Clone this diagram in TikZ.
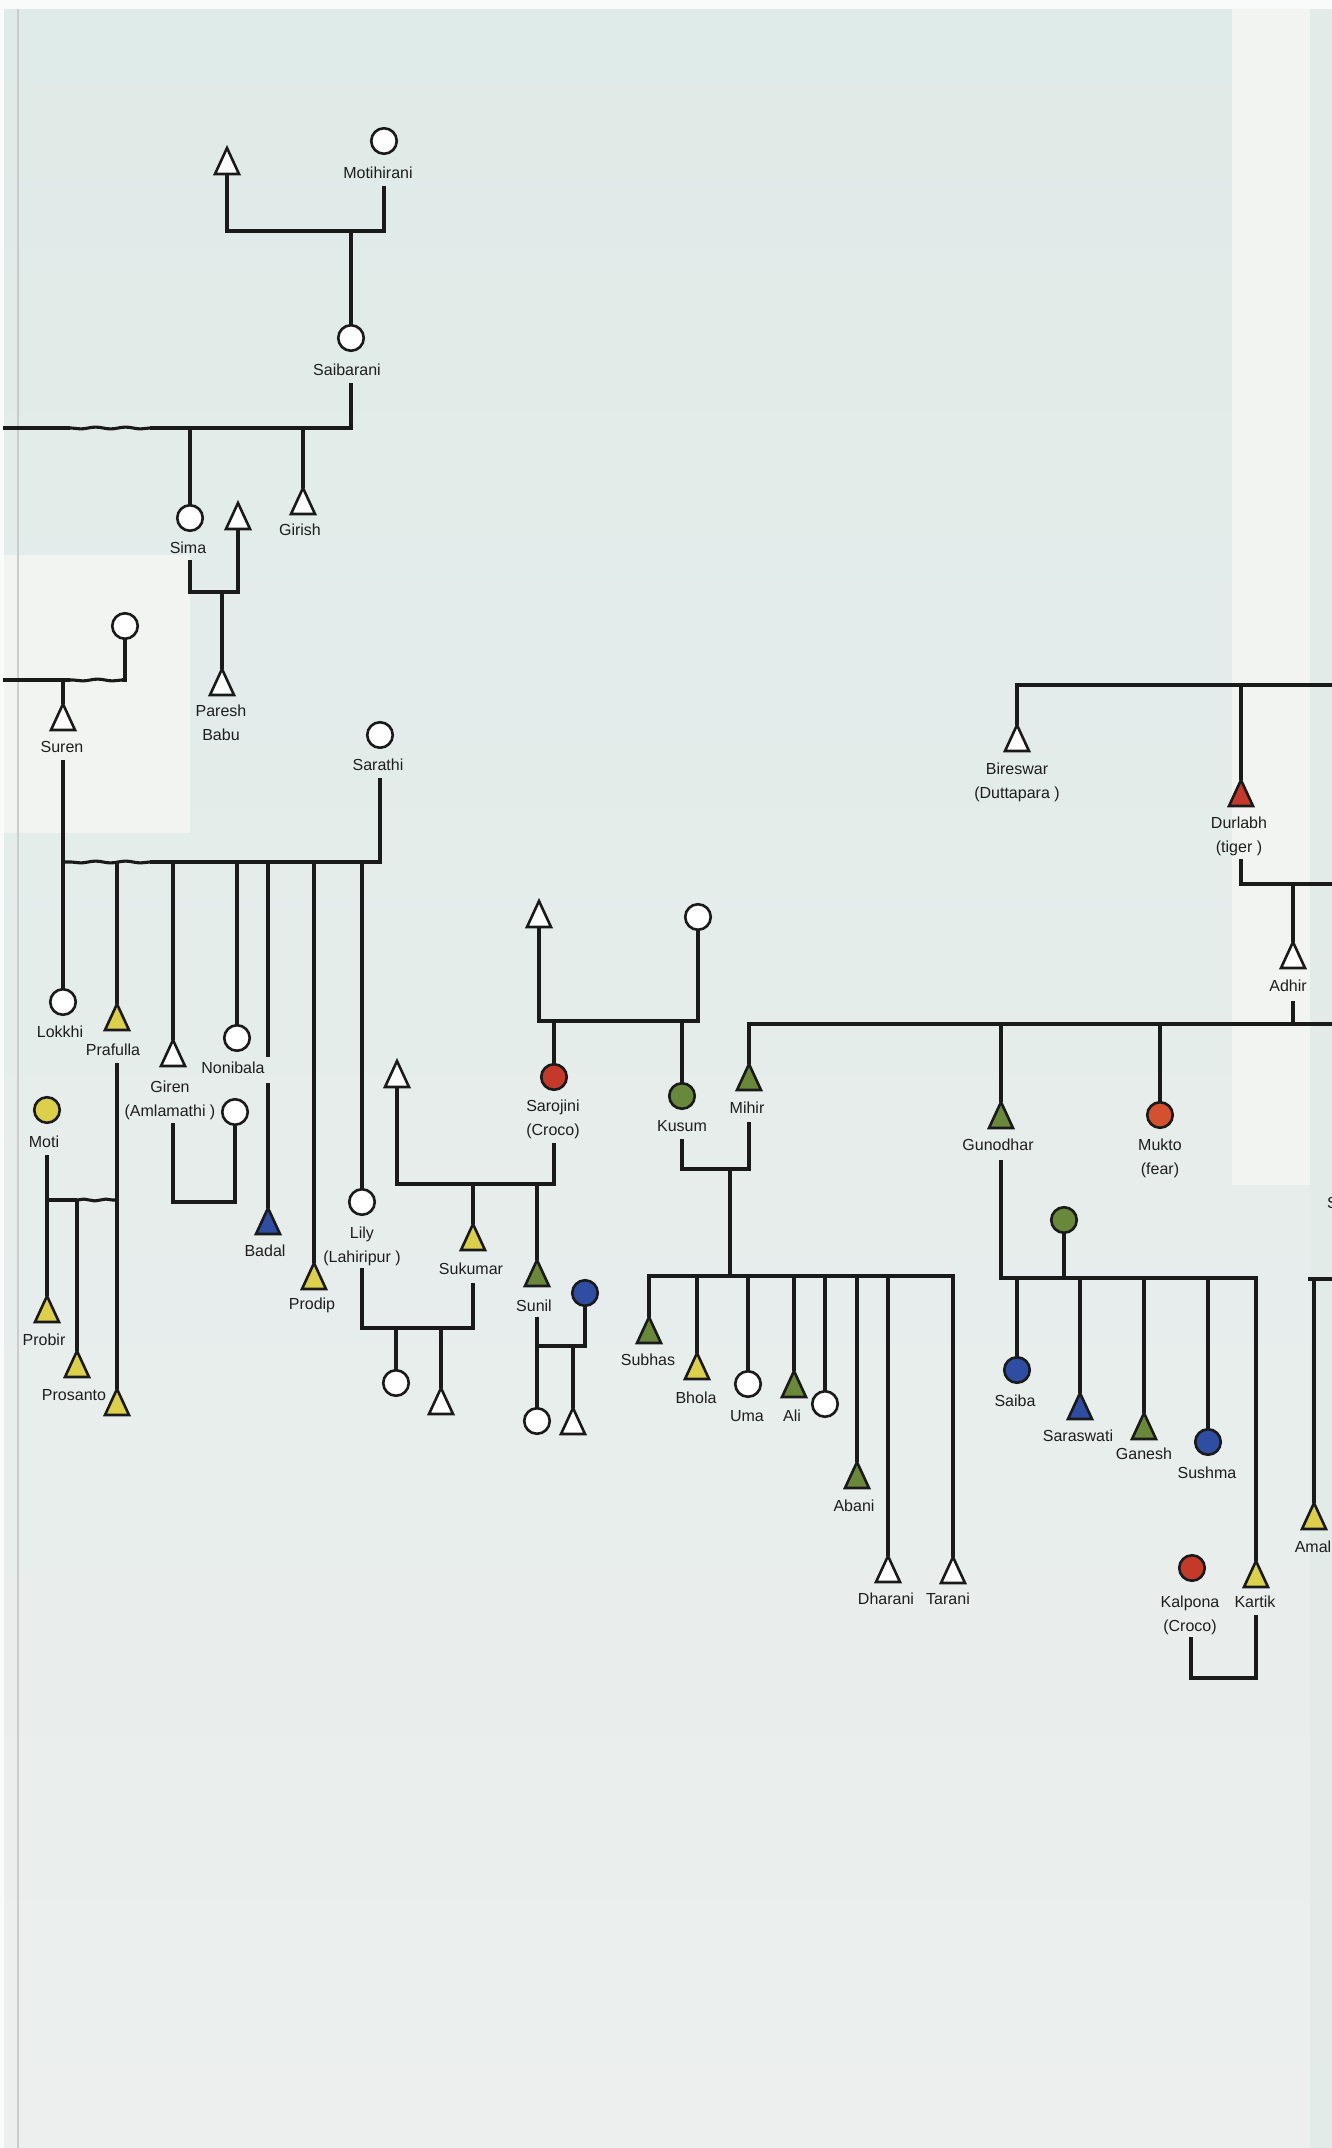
\documentclass[tikz,border=0pt]{standalone}
\usepackage{fontspec}
\setmainfont{Liberation Sans}
\usetikzlibrary{decorations.pathmorphing}
\definecolor{ink}{HTML}{1A1A1A}
\definecolor{txt}{HTML}{1E1E1E}
\definecolor{yel}{HTML}{DCD04A}
\definecolor{grn}{HTML}{6A883A}
\definecolor{blu}{HTML}{2F4EA3}
\definecolor{redF}{HTML}{C5392B}
\definecolor{org}{HTML}{D4512F}
\definecolor{bgTop}{HTML}{DFEBE8}
\definecolor{bgMid}{HTML}{E3EFEC}
\definecolor{bgBot}{HTML}{ECEFEE}
\definecolor{paleW}{HTML}{F1F4F0}
\definecolor{edgeG}{HTML}{E2EBE8}
\tikzset{
  conn/.style={line width=3.1pt, draw=ink},
  wave/.style={decorate, decoration={snake, amplitude=0.9pt, segment length=30pt}},
  fem/.style={circle, draw=ink, line width=2.6pt, minimum size=25.5pt, inner sep=0pt, outer sep=0pt},
  tribox/.style={rectangle, minimum width=24pt, minimum height=26pt, inner sep=0pt, outer sep=0pt},
  trishape/.style={draw=ink, line width=2.6pt, line join=miter},
  lab/.style={font=\fontsize{16}{24}\selectfont, text=txt, inner sep=1pt, align=center}
}
\newcommand\Male[4]{\node[tribox] (#1) at (#2,#3) {};
  \filldraw[trishape, fill=#4] (#1.north) -- (#1.south east) -- (#1.south west) -- cycle;}
\newcommand\Fem[4]{\node[fem, fill=#4] (#1) at (#2,#3) {};}
\begin{document}
\begin{tikzpicture}[x=1pt,y=-1pt]
\useasboundingbox (0,0) rectangle (1332,2148);
\clip (0,0) rectangle (1332,2148);
% background
\shade[top color=bgTop, middle color=bgMid, bottom color=bgBot] (0,0) rectangle (1332,2148);
\fill[paleW] (0,555) rectangle (190,833);
\fill[paleW] (1232,0) rectangle (1310,1185);
\fill[edgeG] (1310,0) rectangle (1332,2148);
\fill[white!80!bgTop] (0,0) rectangle (1332,9);
\fill[white!80!bgTop] (0,0) rectangle (4,2148);
\draw[line width=1.5pt, color=black!20] (18,9) -- (18,2148);

% ---------- males ----------
\Male{T1}{227}{161}{white}
\Male{Girish}{303}{501}{white}
\Male{T2}{238}{516}{white}
\Male{Paresh}{222}{682}{white}
\Male{Suren}{63}{717}{white}
\Male{Prafulla}{117}{1017}{yel}
\Male{Giren}{173}{1053}{white}
\Male{Badal}{268}{1221}{blu}
\Male{Prodip}{314}{1276}{yel}
\Male{Probir}{47}{1309}{yel}
\Male{Prosanto}{77}{1364}{yel}
\Male{Pr3}{117}{1402}{yel}
\Male{T3}{397}{1074}{white}
\Male{Suk}{473}{1237}{yel}
\Male{Sunil}{537}{1273}{grn}
\Male{SC2}{573}{1421}{white}
\Male{LC2}{441}{1401}{white}
\Male{T4}{539}{914}{white}
\Male{Mihir}{749}{1077}{grn}
\Male{Subhas}{649}{1330}{grn}
\Male{Bhola}{697}{1366}{yel}
\Male{Ali}{794}{1384}{grn}
\Male{Abani}{857}{1475}{grn}
\Male{Dharani}{888}{1569}{white}
\Male{Tarani}{953}{1570}{white}
\Male{Bire}{1017}{738}{white}
\Male{Durl}{1241}{793}{redF}
\Male{Adhir}{1293}{955}{white}
\Male{Guno}{1001}{1115}{grn}
\Male{Saras}{1080}{1406}{blu}
\Male{Ganesh}{1144}{1426}{grn}
\Male{Kartik}{1256}{1574}{yel}
\Male{Amal}{1314}{1516}{yel}

% ---------- females ----------
\Fem{Moth}{384}{141}{white}
\Fem{Saib}{351}{338}{white}
\Fem{Sima}{190}{518}{white}
\Fem{F2}{125}{626}{white}
\Fem{Sarathi}{380}{735}{white}
\Fem{Lokkhi}{63}{1002}{white}
\Fem{Aml}{235}{1112}{white}
\Fem{Noni}{237}{1038}{white}
\Fem{Lily}{362}{1202}{white}
\Fem{Moti}{47}{1110}{yel}
\Fem{LC1}{396}{1383}{white}
\Fem{SuW}{585}{1293}{blu}
\Fem{SC1}{537}{1421}{white}
\Fem{F4}{698}{917}{white}
\Fem{Saro}{554}{1077}{redF}
\Fem{Kusum}{682}{1096}{grn}
\Fem{Uma}{748}{1384}{white}
\Fem{KC}{825}{1404}{white}
\Fem{Mukto}{1160}{1115}{org}
\Fem{F5}{1064}{1220}{grn}
\Fem{Saiba}{1017}{1370}{blu}
\Fem{Sushma}{1208}{1442}{blu}
\Fem{Kalp}{1192}{1568}{redF}

% ---------- labels ----------
\node[lab] (lMoth) at (378,173) {Motihirani};
\node[lab] (lSaib) at (347,370) {Saibarani};
\node[lab] (lSima) at (188,548) {Sima};
\node[lab] (lGirish) at (300,530) {Girish};
\node[lab] (lParesh) at (221,723) {Paresh\\Babu};
\node[lab] (lSuren) at (62,747) {Suren};
\node[lab] (lSarathi) at (378,765) {Sarathi};
\node[lab] (lLokkhi) at (60,1032) {Lokkhi};
\node[lab] (lPraf) at (113,1050) {Prafulla};
\node[lab] (lGiren) at (170,1100) {Giren\\(Amlamathi )};
\node[lab] (lNoni) at (233,1068) {Nonibala};
\node[lab] (lBadal) at (265,1251) {Badal};
\node[lab] (lProdip) at (312,1305) {Prodip};
\node[lab] (lLily) at (362,1246) {Lily\\(Lahiripur )};
\node[lab] (lMoti) at (44,1142) {Moti};
\node[lab] (lProbir) at (44,1340) {Probir};
\node[lab] (lPros) at (74,1395) {Prosanto};
\node[lab] (lSaro) at (553,1119) {Sarojini\\(Croco)};
\node[lab] (lKusum) at (682,1126) {Kusum};
\node[lab] (lMihir) at (747,1108) {Mihir};
\node[lab] (lSuk) at (471,1269) {Sukumar};
\node[lab] (lSunil) at (534,1306) {Sunil};
\node[lab] (lSubhas) at (648,1360) {Subhas};
\node[lab] (lBhola) at (696,1398) {Bhola};
\node[lab] (lUma) at (747,1416) {Uma};
\node[lab] (lAli) at (792,1416) {Ali};
\node[lab] (lAbani) at (854,1506) {Abani};
\node[lab] (lDharani) at (886,1599) {Dharani};
\node[lab] (lTarani) at (948,1599) {Tarani};
\node[lab] (lBire) at (1017,782) {Bireswar\\(Duttapara )};
\node[lab] (lDurl) at (1239,836) {Durlabh\\(tiger )};
\node[lab] (lAdhir) at (1288,986) {Adhir};
\node[lab] (lGuno) at (998,1145) {Gunodhar};
\node[lab] (lMukto) at (1160,1158) {Mukto\\(fear)};
\node[lab] (lSaiba) at (1015,1401) {Saiba};
\node[lab] (lSaras) at (1078,1436) {Saraswati};
\node[lab] (lGanesh) at (1144,1454) {Ganesh};
\node[lab] (lSushma) at (1207,1473) {Sushma};
\node[lab] (lKalp) at (1190,1615) {Kalpona\\(Croco)};
\node[lab] (lKartik) at (1255,1602) {Kartik};
\node[lab] (lAmal) at (1313,1547) {Amal};
\node[lab, anchor=west, inner sep=0pt] (lS) at (1327,1203) {S};

% ---------- connector coordinates ----------
\coordinate (gMoth) at (384,186);
\coordinate (jTop) at (384,231);
\coordinate (dTop) at (351,231);
\coordinate (gSaib) at (351,383);
\coordinate (w1) at (150,428);
\coordinate (w2) at (70,428);
\coordinate (eSaib) at (3,428);
\coordinate (gSima) at (190,560);
\coordinate (jPar) at (222,592);
\coordinate (s1) at (122,680);
\coordinate (s2) at (70,680);
\coordinate (eSu) at (3,680);
\coordinate (gSuren) at (63,760);
\coordinate (gSar) at (380,778);
\coordinate (ss1) at (150,862);
\coordinate (ss2) at (63,862);
\coordinate (gBad1) at (268,1057);
\coordinate (gBad2) at (268,1083);
\coordinate (gGir) at (173,1123);
\coordinate (jGA) at (235,1202);
\coordinate (gPraf) at (117,1063);
\coordinate (gMoti) at (47,1155);
\coordinate (jMo) at (47,1200);
\coordinate (m1) at (77,1200);
\coordinate (m2) at (118,1200);
\coordinate (gLily) at (362,1268);
\coordinate (jLS) at (473,1328);
\coordinate (gSuk) at (473,1283);
\coordinate (jSuk) at (554,1184);
\coordinate (gSaro) at (554,1143);
\coordinate (gSunil) at (537,1317);
\coordinate (jSunil) at (537,1346);
\coordinate (jSK) at (698,1021);
\coordinate (gKus) at (682,1139);
\coordinate (jKM) at (749,1169);
\coordinate (gMih) at (749,1122);
\coordinate (cKM) at (730,1169);
\coordinate (jKids) at (730,1276);
\coordinate (eBig) at (1334,1024);
\coordinate (gAdhir) at (1293,1001);
\coordinate (eMid) at (1334,884);
\coordinate (gDurl) at (1241,859);
\coordinate (eTop) at (1334,685);
\coordinate (gGuno) at (1001,1160);
\coordinate (jGu) at (1064,1278);
\coordinate (gKart) at (1256,1615);
\coordinate (jKK) at (1191,1678);
\coordinate (gKalp) at (1191,1637);
\coordinate (eAm1) at (1308,1279);
\coordinate (eAm2) at (1334,1279);

% ---------- connectors ----------
% top family
\draw[conn] (T1.south) |- (jTop) -- (gMoth);
\draw[conn] (dTop) -- (Saib.north);
\draw[conn] (gSaib) |- (w1);
\draw[conn, wave] (w1) -- (w2);
\draw[conn] (w2) -- (eSaib);
\draw[conn] (w1 -| Sima) -- (Sima.north);
\draw[conn] (w1 -| Girish) -- (Girish.north);
\draw[conn] (gSima) |- (jPar) -| (T2.south);
\draw[conn] (jPar) -- (Paresh.north);
% Suren
\draw[conn] (F2.south) |- (s1);
\draw[conn, wave] (s1) -- (s2);
\draw[conn] (s2) -- (eSu);
\draw[conn] (s2 -| Suren) -- (Suren.north);
\draw[conn] (gSuren) -- (Lokkhi.north);
\draw[conn] (gSar) |- (ss1);
\draw[conn, wave] (ss1) -- (ss2);
\draw[conn] (ss1 -| Prafulla) -- (Prafulla.north);
\draw[conn] (ss1 -| Giren) -- (Giren.north);
\draw[conn] (ss1 -| Noni) -- (Noni.north);
\draw[conn] (ss1 -| Badal) -- (gBad1);
\draw[conn] (gBad2) -- (Badal.north);
\draw[conn] (ss1 -| Prodip) -- (Prodip.north);
\draw[conn] (ss1 -| Lily) -- (Lily.north);
\draw[conn] (gGir) |- (jGA) -- (Aml.south);
\draw[conn] (gPraf) -- (Pr3.north);
% Moti
\draw[conn] (gMoti) -- (Probir.north);
\draw[conn] (jMo) -- (m1);
\draw[conn, decorate, decoration={snake, amplitude=0.9pt, segment length=22pt}] (m1) -- (m2);
\draw[conn] (m1) -- (Prosanto.north);
% Lily - Sukumar
\draw[conn] (gLily) |- (jLS) -- (gSuk);
\draw[conn] (jLS -| LC1) -- (LC1.north);
\draw[conn] (jLS -| LC2) -- (LC2.north);
% Sarojini marriage
\draw[conn] (T3.south) |- (jSuk) -- (gSaro);
\draw[conn] (jSuk -| Suk) -- (Suk.north);
\draw[conn] (jSuk -| Sunil) -- (Sunil.north);
\draw[conn] (gSunil) -- (SC1.north);
\draw[conn] (SuW.south) |- (jSunil);
\draw[conn] (jSunil -| SC2) -- (SC2.north);
% Sarojini / Kusum parents
\draw[conn] (T4.south) |- (jSK) -- (F4.south);
\draw[conn] (jSK -| Saro) -- (Saro.north);
\draw[conn] (jSK -| Kusum) -- (Kusum.north);
\draw[conn] (gKus) |- (jKM) -- (gMih);
\draw[conn] (cKM) -- (jKids);
\draw[conn] (Subhas.north) |- (jKids) -| (Tarani.north);
\draw[conn] (jKids -| Bhola) -- (Bhola.north);
\draw[conn] (jKids -| Uma) -- (Uma.north);
\draw[conn] (jKids -| Ali) -- (Ali.north);
\draw[conn] (jKids -| KC) -- (KC.north);
\draw[conn] (jKids -| Abani) -- (Abani.north);
\draw[conn] (jKids -| Dharani) -- (Dharani.north);
% Adhir line
\draw[conn] (Mihir.north) |- (eBig);
\draw[conn] (eBig -| Guno) -- (Guno.north);
\draw[conn] (eBig -| Mukto) -- (Mukto.north);
\draw[conn] (gAdhir) -- (gAdhir |- eBig);
\draw[conn] (gDurl) |- (eMid);
\draw[conn] (Adhir.north) -- (Adhir.north |- eMid);
\draw[conn] (Bire.north) |- (eTop);
\draw[conn] (eTop -| Durl) -- (Durl.north);
% Gunodhar
\draw[conn] (gGuno) |- (jGu) -| (Kartik.north);
\draw[conn] (F5.south) -- (jGu);
\draw[conn] (jGu -| Saiba) -- (Saiba.north);
\draw[conn] (jGu -| Saras) -- (Saras.north);
\draw[conn] (jGu -| Ganesh) -- (Ganesh.north);
\draw[conn] (jGu -| Sushma) -- (Sushma.north);
\draw[conn] (gKart) |- (jKK) -- (gKalp);
% Amal
\draw[conn] (eAm1) -- (eAm2);
\draw[conn] (eAm1 -| Amal) -- (Amal.north);
\end{tikzpicture}
\end{document}
